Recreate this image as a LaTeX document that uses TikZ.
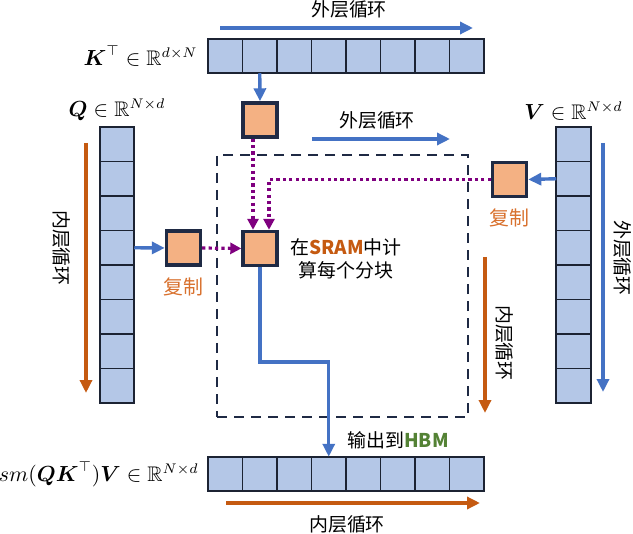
\documentclass[tikz,border=0pt]{standalone}
\usepackage{amsmath,amssymb}
\usepackage{fontspec}
\usepackage{xcolor}
\usetikzlibrary{positioning,arrows.meta}
\newfontfamily\cjk{Noto Sans CJK SC}
\definecolor{cellblue}{HTML}{B4C7E7}
\definecolor{cellline}{HTML}{1C2333}
\definecolor{blkorange}{HTML}{F4B183}
\definecolor{blkline}{HTML}{1F2A44}
\definecolor{arrblue}{HTML}{4472C4}
\definecolor{arrorange}{HTML}{C55A11}
\definecolor{copyorange}{HTML}{D8712E}
\definecolor{dotpurple}{HTML}{7F007F}
\definecolor{hbmgreen}{HTML}{548235}

\begin{document}
\begin{tikzpicture}[x=0.5bp,y=-0.5bp,
  cell/.style={draw=cellline,fill=cellblue,line width=0.8bp,minimum size=17.25bp,inner sep=0pt,outer sep=0pt},
  blk/.style={draw=blkline,fill=blkorange,line width=1.7bp,minimum size=17bp,inner sep=0pt},
  zh/.style={font=\cjk\fontsize{9.5}{11.5}\selectfont,inner sep=1bp},
  mlab/.style={font=\fontsize{10.6}{13}\selectfont,inner sep=1bp},
  blu/.style={draw=arrblue,line width=1.7bp,-{Triangle[length=6.5bp,width=6bp]}},
  org/.style={draw=arrorange,line width=1.7bp,-{Triangle[length=6.5bp,width=6bp]}},
  dots/.style={draw=dotpurple,line width=1.6bp,dash pattern=on 1.6bp off 1.6bp,-{Triangle[length=5.5bp,width=5.5bp]}}]
\useasboundingbox (0,0) rectangle (633,534);
% rows and columns of blocks
\foreach \i in {1,...,8} {
  \node[cell] (k\i) at ({208+34.5*(\i-0.5)},56) {};
  \node[cell] (o\i) at ({208+34.5*(\i-0.5)},474) {};
  \node[cell] (q\i) at (117,{127+34.5*(\i-0.5)}) {};
  \node[cell] (v\i) at (573.5,{127+34.5*(\i-0.5)}) {};
}
\node[mlab,left=4bp of k1] (klab) {$\boldsymbol{K}^{\top}\in\mathbb{R}^{d\times N}$};
\node[mlab,above=2bp of q1] (qlab) {$\boldsymbol{Q}\in\mathbb{R}^{N\times d}$};
\node[mlab,above=2bp of v1] (vlab) {$\boldsymbol{V}\in\mathbb{R}^{N\times d}$};
\node[mlab,left=3.5bp of o1] (olab) {$sm(\boldsymbol{Q}\boldsymbol{K}^{\top})\boldsymbol{V}\in\mathbb{R}^{N\times d}$};
% SRAM part
\node[draw=blkline,line width=1.4bp,dash pattern=on 5bp off 3.5bp,minimum width=125.5bp,minimum height=131bp] (sram) at (342.5,286) {};
\node[blk] (kblk) at (260,120) {};
\node[blk] (qblk) at (183.5,248) {};
\node[blk] (vblk) at (509.5,179.5) {};
\node[blk] (blk) at (260,248.5) {};
\node[zh,font=\cjk\fontsize{10}{12}\selectfont,text=copyorange,below=4.5bp of qblk] (qcp) {复制};
\node[zh,font=\cjk\fontsize{10}{12}\selectfont,text=copyorange,below=4bp of vblk] (vcp) {复制};
\node[zh,align=center] (calc) at (346,259) {在\textcolor{arrorange}{\bfseries SRAM}中计\\算每个分块};
\node[zh] (hbm) at (398,440) {输出到\textcolor{hbmgreen}{\bfseries HBM}};
% loop labels
\node[zh] (ltop) at (349,9) {外层循环};
\node[zh] (lmid) at (377,120) {外层循环};
\node[zh] (lbot) at (347,524) {内层循环};
\node[zh,rotate=-90] (lq) at (62,248) {内层循环};
\node[zh,rotate=-90] (lv) at (623,258) {外层循环};
\node[zh,rotate=-90] (lin) at (505,343) {内层循环};
\coordinate (ka) at (220,28); \coordinate (kb) at (473,28);
\coordinate (ia) at (312,139); \coordinate (ib) at (450,139);
\coordinate (qa) at (86,143); \coordinate (qb) at (86,393);
\coordinate (va) at (603,143); \coordinate (vb) at (603,392);
\coordinate (ra) at (485,257); \coordinate (rb) at (485,413);
\coordinate (oa) at (226,503); \coordinate (ob) at (480,503);
\coordinate (bend) at (260,362);
\draw[blu] (ka) -- (kb);
\draw[blu] (ia) -- (ib);
\draw[blu] (va) -- (vb);
\draw[org] (qa) -- (qb);
\draw[org] (ra) -- (rb);
\draw[org] (oa) -- (ob);
% copies and output
\draw[blu] (k2.south) -- (kblk.north);
\draw[blu] (q4.east) -- (qblk.west);
\draw[blu] (v2.west) -- (vblk.east);
\draw[dots] (qblk.east) -- (blk.west);
\draw[dots] ([xshift=-3.5bp]kblk.south) -- ([xshift=-3.5bp]blk.north);
\draw[dots] (vblk.west) -| ([xshift=4.5bp]blk.north);
\draw[blu] (blk.south) -- (bend) -| (o4.north);
\end{tikzpicture}
\end{document}
